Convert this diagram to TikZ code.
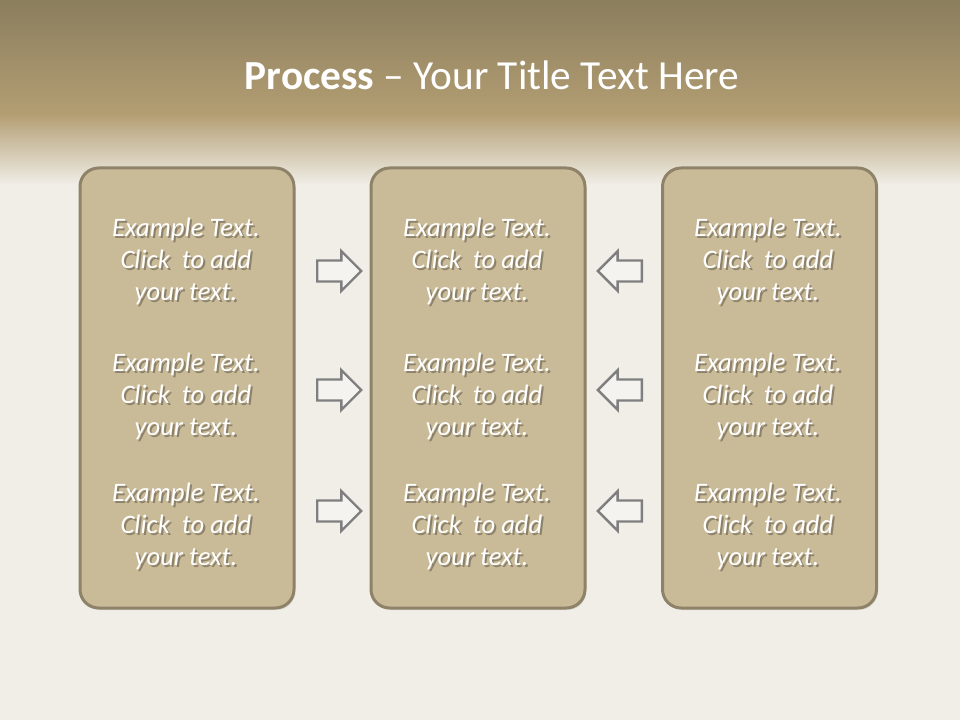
\documentclass[tikz,border=0pt]{standalone}
\usepackage{fontspec}
\setmainfont{Carlito}
\usepackage{xcolor}
\usetikzlibrary{shapes.arrows,shadows,positioning}
\definecolor{bandtop}{HTML}{8B7E5E}
\definecolor{bandmid}{HTML}{B39E73}
\definecolor{paper}{HTML}{F0EEE7}
\definecolor{boxfill}{HTML}{C9BA98}
\definecolor{boxline}{HTML}{8E8369}
\definecolor{arrline}{HTML}{7F7F7F}
\definecolor{arrfill}{HTML}{F4F3F0}

% sizes in pt (1 px of the slide = 0.75pt)
\tikzset{
  panel/.style={draw=boxline, line width=2.25pt, fill=boxfill, rounded corners=14pt,
    minimum width=160.5pt, minimum height=330pt, inner sep=0pt,
    drop shadow={opacity=0.2, shadow xshift=1pt, shadow yshift=-1.5pt}},
  bodytext/.style={align=center, text=white, font=\fontsize{20}{24}\selectfont\itshape},
  bodyshade/.style={bodytext, text=black, opacity=0.3},
  fatarrow/.style={single arrow, draw=arrline, line width=1.8pt, fill=arrfill,
    minimum height=33pt, single arrow head extend=7pt, anchor=tail,
    inner xsep=0pt, inner ysep=7pt, single arrow tip angle=90},
}

\begin{document}
\begin{tikzpicture}[x=0.75pt, y=-0.75pt]

% ---- Background ----
\useasboundingbox (0,0) rectangle (960,720);
\fill[paper] (0,0) rectangle (960,720);
\shade[top color=bandtop, bottom color=bandmid] (0,0) rectangle (960,115);
\shade[top color=bandmid, bottom color=paper] (0,114) rectangle (960,185);

% ---- Title ----
\node[text=white, font=\fontsize{31}{36}\selectfont] (title) at (492,75)
  {\textbf{Process} -- Your Title Text Here};

% ---- Three panels ----
\node[panel] (left)   at (187,388) {};
\node[panel] (centre) at (478,388) {};
\node[panel] (right)  at (769.5,388) {};

% ---- Text in the panels ----
\foreach \col/\cx in {l/186, c/477, r/768}{
  \foreach \row/\cy in {1/261, 2/396, 3/526}{
    \node[bodyshade] at (\cx+2,\cy+2) {Example Text.\\Click\ \ to add\\your text.};
    \node[bodytext] (txt-\col\row) at (\cx,\cy) {Example Text.\\Click\ \ to add\\your text.};
  }
}

% ---- Arrows (placed by their tails) ----
\foreach \row/\ay in {1/271, 2/390, 3/511}{
  \node[fatarrow] (ra\row) at (316,\ay) {};
  \node[fatarrow, shape border rotate=180] (la\row) at (643,\ay) {};
}

\end{tikzpicture}
\end{document}
